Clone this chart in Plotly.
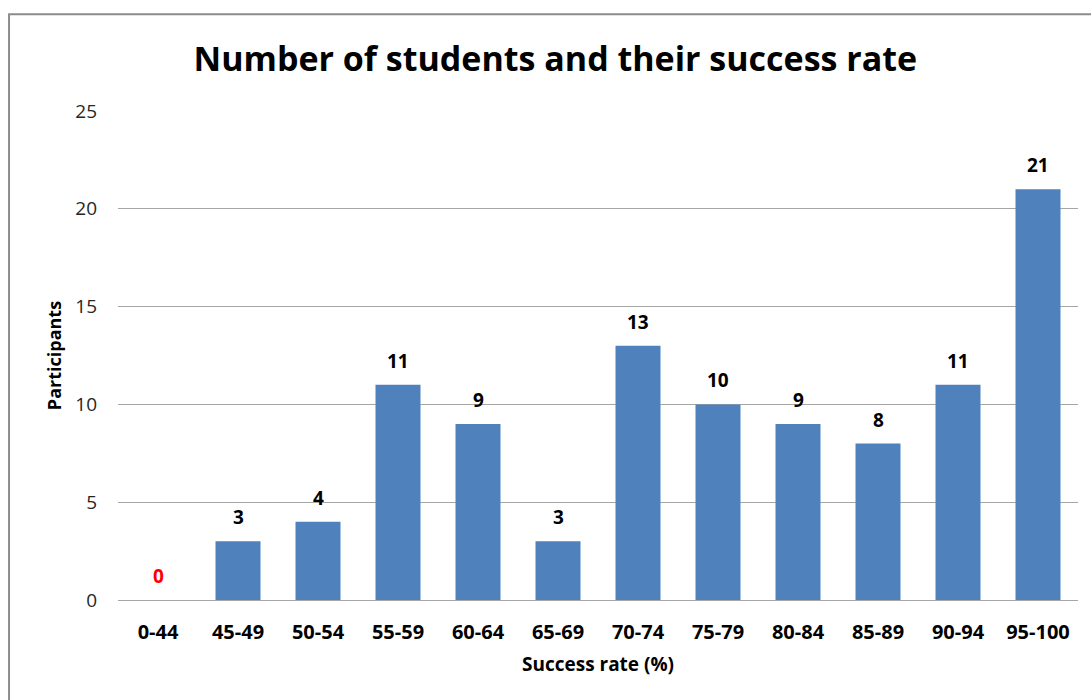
import plotly.graph_objects as go

# Success-rate bands and the number of participants in each
categories = ["0-44", "45-49", "50-54", "55-59", "60-64", "65-69",
              "70-74", "75-79", "80-84", "85-89", "90-94", "95-100"]
participants = [0, 3, 4, 11, 9, 3, 13, 10, 9, 8, 11, 21]
y_ticks = [0, 5, 10, 15, 20, 25]

FONT = "Open Sans"
BAR_COLOR = "#4F81BD"
GRID = "#A6A6A6"

fig = go.Figure()
fig.add_trace(go.Bar(
    x=categories,
    y=participants,
    marker=dict(color=BAR_COLOR, line=dict(width=0)),
    hoverinfo="x+y",
))

# Value labels above every bar; the empty band is flagged in red
for cat, val in zip(categories, participants):
    fig.add_annotation(
        x=cat, y=val, text=f"<b>{val}</b>", showarrow=False,
        yanchor="bottom", yshift=9,
        font=dict(family=FONT, size=19, color="red" if val == 0 else "black"),
    )

# Outer chart frame
fig.add_shape(type="rect", xref="paper", yref="paper",
              x0=-0.1135, x1=1.2, y0=-0.4, y1=1.198,
              line=dict(color="#8C8C8C", width=2), layer="below")

fig.update_layout(
    width=1091, height=700,
    margin=dict(l=118, r=13, t=111, b=100),
    paper_bgcolor="white", plot_bgcolor="white",
    showlegend=False,
    bargap=0.4375,
    title=dict(text="<b>Number of students and their success rate</b>",
               x=0.509, xanchor="center", y=0.915, yanchor="middle",
               font=dict(family=FONT, size=34, color="black")),
    xaxis=dict(
        showgrid=False, showline=True, linecolor=GRID, linewidth=1,
        ticks="", ticklabelstandoff=14,
        tickfont=dict(family=FONT, size=20, color="black", weight="bold"),
        title=dict(text="<b>Success rate (%)</b>", standoff=13,
                   font=dict(family=FONT, size=19, color="black")),
    ),
    yaxis=dict(
        range=[0, 25], tickvals=y_ticks,
        showgrid=True, gridcolor=GRID, gridwidth=1, zeroline=False,
        ticks="", ticklabelstandoff=20,
        tickfont=dict(family=FONT, size=19, color="#262626"),
        title=dict(text="<b>Participants</b>", standoff=8,
                   font=dict(family=FONT, size=18, color="black")),
    ),
)

fig.write_html("out.html")
